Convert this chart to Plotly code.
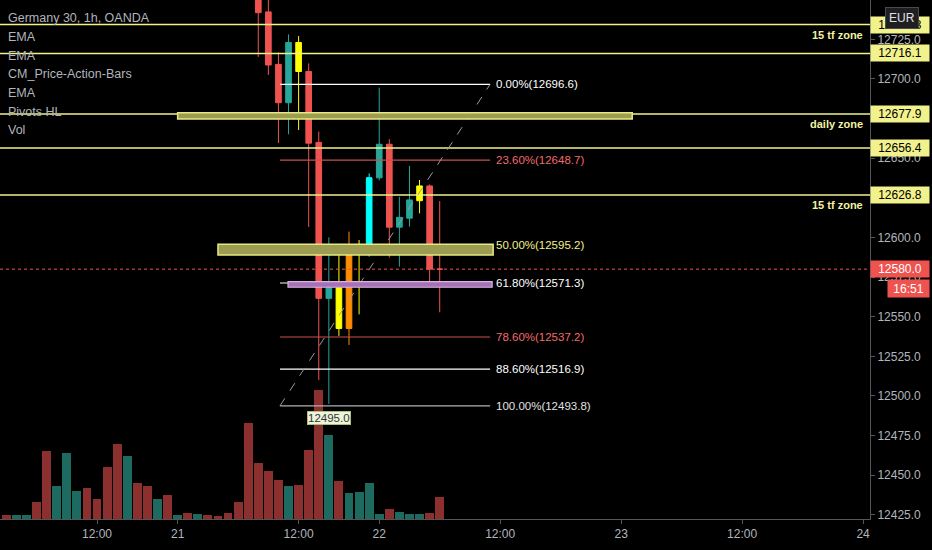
import plotly.graph_objects as go

# ---------------- data ----------------
# bar index (1h bars); volume for every bar
volume = [4, 4, 4, 17, 68, 33, 66, 28, 31, 20, 52, 75, 63, 36, 33, 20, 24, 4, 6, 5,
          4, 3, 6, 17, 96, 56, 48, 39, 33, 34, 69, 129, 84, 38, 26, 27, 36, 5, 10, 7,
          5, 5, 6, 22]
vol_dir = ["d", "u", "u", "d", "d", "u", "u", "u", "d", "d", "d", "d", "u", "d", "d", "u", "d", "u", "d", "u",
           "d", "d", "d", "d", "d", "d", "d", "d", "u", "d", "d", "d", "u", "d", "u", "u", "u", "u", "d", "u",
           "u", "u", "d", "d"]

# visible candles (bars 25..43)
c_idx = list(range(25, 44))
c_open = [12762.0, 12742.3, 12709.2, 12685.0, 12723.0, 12704.7, 12660.0, 12561.6, 12568.3, 12542.6,
          12589.6, 12591.5, 12637.6, 12658.8, 12606.5, 12612.2, 12623.2, 12632.5, 12580.0]
c_high = [12770.0, 12755.0, 12716.8, 12728.1, 12727.0, 12709.8, 12666.8, 12600.1, 12595.9, 12603.7,
          12598.4, 12640.4, 12694.5, 12662.0, 12625.7, 12645.1, 12636.3, 12633.5, 12623.0]
c_low = [12713.9, 12702.5, 12659.6, 12665.1, 12667.8, 12606.6, 12510.1, 12495.0, 12537.9, 12532.2,
         12551.5, 12587.9, 12636.0, 12587.3, 12581.6, 12606.8, 12615.2, 12569.1, 12552.8]
c_close = [12741.8, 12708.8, 12685.0, 12723.0, 12704.7, 12659.5, 12561.6, 12568.3, 12542.6, 12589.6,
           12592.1, 12637.7, 12658.8, 12606.5, 12612.7, 12623.7, 12632.5, 12580.0, 12580.0]
# price-action bar colouring
c_kind = ["red", "red", "red", "teal", "yellow", "red", "red", "teal", "yellow", "orange",
          "yellow", "cyan", "teal", "red", "teal", "teal", "yellow", "red", "red"]

zone_levels = [12734.3, 12716.1, 12677.9, 12656.4, 12626.8]
zone_texts = [("15 tf zone", 12734.3), ("daily zone", 12677.9), ("15 tf zone", 12626.8)]

fib_top = 12696.6
fib_bottom = 12493.8
fib_ratios = [0.0, 0.236, 0.5, 0.618, 0.786, 0.886, 1.0]
fib_text_colors = ["#ffffff", "#f26b6b", "#f2f28a", "#ffffff", "#f26b6b", "#ffffff", "#e0e0e0"]
fib_line_colors = ["#ffffff", "#c9504e", "#e8e880", "#ffffff", "#c9504e", "#ffffff", "#b0b0b0"]
fib_x = [27.15, 48.0]

last_price = 12580.0
countdown = "16:51"
low_label = 12495.0
low_bar = 32

# price ticks that are visible (others are covered by the price boxes)
y_ticks = [12425, 12450, 12475, 12500, 12525, 12550, 12575, 12600, 12650, 12700, 12725]
x_tickvals = [9, 17, 29, 37, 49, 61, 73, 85]
x_ticktext = ["12:00", "21", "12:00", "22", "12:00", "23", "12:00", "24"]

legend_lines = ["Germany 30, 1h, OANDA", "EMA", "EMA", "CM_Price-Action-Bars", "EMA", "Pivots HL", "Vol"]

# ---------------- style ----------------
W, H = 932, 550
ML, MR, MT, MB = 0, 62, 0, 31
PLOT_H = H - MT - MB
FONT = "Liberation Sans, Arial, sans-serif"
AX_COL = "#b2b5be"
ZONE_COL = "#f2f28c"
colors = {"red": "#ef5350", "teal": "#26a69a", "yellow": "#ffff00", "orange": "#ff8c00", "cyan": "#00ffff"}
vol_colors = {"d": "#8c2f2f", "u": "#1d6a60"}

fig = go.Figure()

# volume (overlay axis)
fig.add_trace(go.Bar(
    x=list(range(len(volume))), y=volume, yaxis="y2",
    marker=dict(color=[vol_colors[d] for d in vol_dir], line=dict(width=0)),
    width=0.88, hoverinfo="skip", showlegend=False))

# candles grouped by colour
for kind, col in colors.items():
    sel = [i for i, k in enumerate(c_kind) if k == kind]
    fig.add_trace(go.Candlestick(
        x=[c_idx[i] for i in sel],
        open=[c_open[i] for i in sel], high=[c_high[i] for i in sel],
        low=[c_low[i] for i in sel], close=[c_close[i] for i in sel],
        increasing=dict(line=dict(color=col, width=1), fillcolor=col),
        decreasing=dict(line=dict(color=col, width=1), fillcolor=col),
        whiskerwidth=0, showlegend=False, hoverinfo="skip"))

shapes = []
annotations = []

# zone horizontal lines
for lv in zone_levels:
    shapes.append(dict(type="line", xref="paper", x0=0, x1=1, yref="y", y0=lv, y1=lv,
                       line=dict(color=ZONE_COL, width=1.5), layer="above"))

# fib lines
fib_levels = [fib_top - r * (fib_top - fib_bottom) for r in fib_ratios]
for lv, lc in zip(fib_levels, fib_line_colors):
    shapes.append(dict(type="line", xref="x", x0=fib_x[0], x1=fib_x[1], yref="y", y0=lv, y1=lv,
                       line=dict(color=lc, width=1.2), layer="above"))
# fib diagonal
shapes.append(dict(type="line", xref="x", x0=fib_x[0], x1=fib_x[1], yref="y", y0=fib_bottom, y1=fib_top,
                   line=dict(color="#9a9a9a", width=1, dash="dash"), layer="above"))

# bands (zones)
shapes.append(dict(type="rect", xref="x", x0=17.0, x1=62.1, yref="y", y0=12674.8, y1=12678.6,
                   fillcolor="#9c9c52", line=dict(color="#e8e880", width=1.5), layer="above"))
shapes.append(dict(type="rect", xref="x", x0=21.0, x1=48.3, yref="y", y0=12589.0, y1=12595.7,
                   fillcolor="#9c9c52", line=dict(color="#e8e880", width=1.5), layer="above"))
shapes.append(dict(type="rect", xref="x", x0=27.95, x1=48.2, yref="y", y0=12568.6, y1=12572.1,
                   fillcolor="#a772b5", line=dict(color="#d9b3e6", width=1.2), layer="above"))

# current price dotted line
shapes.append(dict(type="line", xref="paper", x0=0, x1=1, yref="y", y0=last_price, y1=last_price,
                   line=dict(color="#ef5350", width=1, dash="dot"), layer="above"))

# fib labels
for r, lv, tc in zip(fib_ratios, fib_levels, fib_text_colors):
    annotations.append(dict(x=fib_x[1], xref="x", xshift=4, xanchor="left", y=lv, yref="y",
                            text=f"{r*100:.2f}%({lv:.1f})", showarrow=False,
                            font=dict(family=FONT, size=11.5, color=tc)))

# zone text labels
for t, lv in zone_texts:
    annotations.append(dict(x=1, xref="paper", xshift=-5, xanchor="right", y=lv, yref="y",
                            yanchor="top", yshift=-2, text=f"<b>{t}</b>", showarrow=False,
                            font=dict(family=FONT, size=11, color="#f2f2a0")))

# low label
annotations.append(dict(x=low_bar, xref="x", y=low_label, yref="y", yanchor="top", yshift=-7,
                        text=f"{low_label:.1f}", showarrow=False, bgcolor="#eef4dc",
                        bordercolor="#a8c070", borderwidth=1, borderpad=0,
                        font=dict(family=FONT, size=11.5, color="#333333")))

# legend text
for i, t in enumerate(legend_lines):
    ypx = 18.3 + i * 18.7
    annotations.append(dict(x=0, xref="paper", xshift=6, xanchor="left",
                            y=1 - ypx / PLOT_H, yref="paper", yanchor="middle",
                            text=t, showarrow=False, font=dict(family=FONT, size=12.5, color=AX_COL)))

# axis price boxes
for lv in zone_levels:
    annotations.append(dict(x=1, xref="paper", xanchor="left", y=lv, yref="y", yanchor="middle",
                            text=f"{lv:.1f}", showarrow=False, bgcolor=ZONE_COL, width=54, height=12,
                            borderpad=2, font=dict(family=FONT, size=12, color="#000000")))
annotations.append(dict(x=1, xref="paper", xanchor="left", y=last_price, yref="y", yanchor="middle",
                        text=f"{last_price:.1f}", showarrow=False, bgcolor="#ef5350", width=54, height=12,
                        borderpad=2, font=dict(family=FONT, size=12, color="#ffffff")))
annotations.append(dict(x=1, xref="paper", xanchor="left", xshift=17, y=last_price, yref="y",
                        yanchor="middle", yshift=-19, text=countdown, showarrow=False,
                        bgcolor="#ef5350", width=37, height=13, borderpad=2,
                        font=dict(family=FONT, size=12, color="#ffffff")))
# currency badge
annotations.append(dict(x=1, xref="paper", xanchor="left", xshift=15, y=1, yref="paper",
                        yanchor="top", yshift=-7, text="EUR", showarrow=False,
                        bgcolor="#1e1f22", bordercolor="#4a4a4a", borderwidth=1, borderpad=3,
                        font=dict(family=FONT, size=12, color="#e0e0e0")))

fig.update_layout(
    width=W, height=H, margin=dict(l=ML, r=MR, t=MT, b=MB),
    paper_bgcolor="#000000", plot_bgcolor="#000000",
    showlegend=False, boxgap=0.2, bargap=0,
    shapes=shapes, annotations=annotations,
    xaxis=dict(range=[-0.625, 85.69], showgrid=False, zeroline=False,
               tickvals=x_tickvals, ticktext=x_ticktext, ticks="outside", ticklen=4,
               tickcolor="#555555", showline=True, linecolor="#555555", linewidth=1,
               tickfont=dict(family=FONT, size=12, color=AX_COL),
               rangeslider=dict(visible=False), fixedrange=True),
    yaxis=dict(range=[12422.4, 12749.8], side="right", showgrid=False, zeroline=False,
               tickvals=y_ticks, ticktext=[f"{v:.1f}" for v in y_ticks],
               ticks="outside", ticklen=4, tickcolor="#555555",
               showline=True, linecolor="#555555", linewidth=1,
               tickfont=dict(family=FONT, size=12, color=AX_COL)),
    yaxis2=dict(range=[0, PLOT_H], overlaying="y", visible=False, fixedrange=True),
)

fig.write_html("out.html", config={"displayModeBar": False},
               post_script="document.body.style.margin='0';document.body.style.background='#000';")
